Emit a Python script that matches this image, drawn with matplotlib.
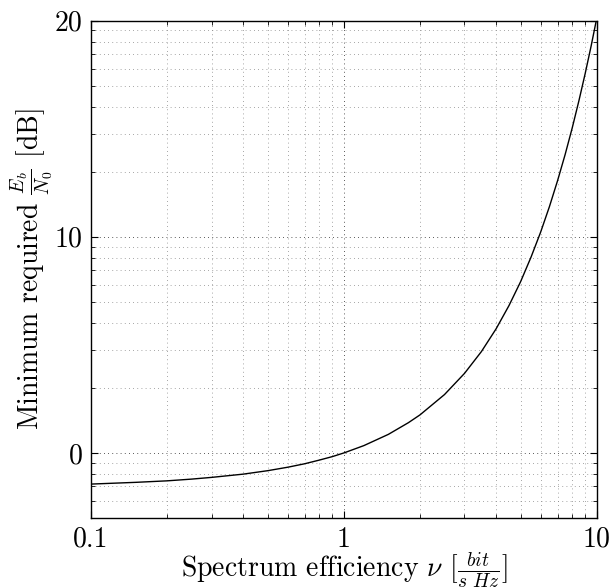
import numpy as np
import matplotlib
matplotlib.use("Agg")
import matplotlib.pyplot as plt
from matplotlib.ticker import FixedLocator, FixedFormatter, NullFormatter

plt.rcParams['font.family'] = 'cmr10'
plt.rcParams['mathtext.fontset'] = 'cm'
plt.rcParams['axes.formatter.use_mathtext'] = True

# spectrum efficiency [bit/(s Hz)] and minimum required Eb/N0 [dB]
nu = [0.1, 0.15, 0.2, 0.25, 0.3, 0.4, 0.5, 0.6, 0.7, 0.8, 0.9, 1.0, 1.2, 1.5, 1.8, 2.0,
      2.5, 3.0, 3.5, 4.0, 4.5, 5.0, 5.5, 6.0, 6.5, 7.0, 7.5, 8.0, 8.5, 9.0, 9.5, 10.0]
ebn0_db = [-1.44, -1.36, -1.29, -1.21, -1.13, -0.98, -0.82, -0.66, -0.50, -0.33, -0.17, 0.00,
           0.34, 0.86, 1.40, 1.76, 2.70, 3.68, 4.69, 5.74, 6.82, 7.92, 9.06, 10.21, 11.39,
           12.59, 13.80, 15.03, 16.28, 17.54, 18.81, 20.10]

xticks = [0.1, 1, 10]
xticklabels = ['0.1', '1', '10']
yticks_db = [0, 10, 20]

# y axis is logarithmic in linear Eb/N0, labelled in dB
ebn0_lin = 10 ** (np.array(ebn0_db) / 10)

fig = plt.figure(figsize=(6.12, 5.88), dpi=100)
ax = fig.add_axes([0.1487, 0.119, 0.8263, 0.846])

ax.plot(nu, ebn0_lin, color='black', linewidth=1.0)
ax.set_xscale('log')
ax.set_yscale('log')
ax.set_xlim(0.1, 10)
ax.set_ylim(0.5, 100)

ax.xaxis.set_major_locator(FixedLocator(xticks))
ax.xaxis.set_major_formatter(FixedFormatter(xticklabels))
ax.xaxis.set_minor_formatter(NullFormatter())
ax.yaxis.set_major_locator(FixedLocator([10 ** (d / 10) for d in yticks_db]))
ax.yaxis.set_major_formatter(FixedFormatter([str(d) for d in yticks_db]))
ax.yaxis.set_minor_formatter(NullFormatter())

ax.grid(True, which='major', linestyle=(0, (1, 4)), color='#222222', linewidth=0.6)
ax.grid(True, which='minor', linestyle=(0, (1, 4)), color='#888888', linewidth=0.6)

ax.tick_params(which='both', direction='in', top=True, right=True, labelsize=20)
ax.tick_params(which='major', length=5, width=0.8, pad=6)
ax.tick_params(which='minor', length=3, width=0.6)
for s in ax.spines.values():
    s.set_linewidth(1.0)

ax.set_xlabel(r'Spectrum efficiency $\nu$ $[\frac{bit}{s\ Hz}]$', fontsize=20, labelpad=-2)
ax.set_ylabel(r'Minimum required $\frac{E_b}{N_0}$ [dB]', fontsize=20, labelpad=0)

fig.savefig('out.png', dpi=100)
